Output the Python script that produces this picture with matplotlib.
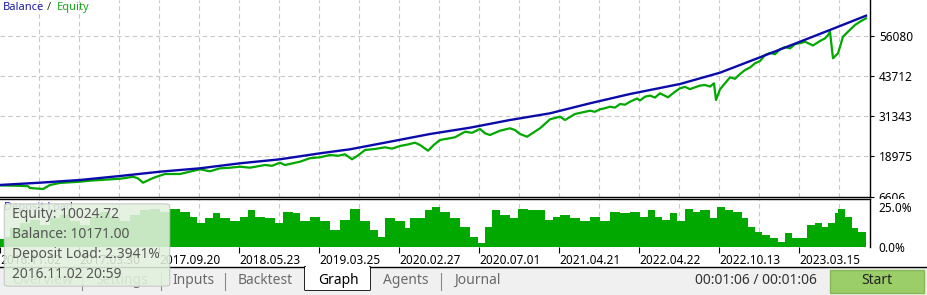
import matplotlib
matplotlib.use("Agg")
import matplotlib.pyplot as plt
from matplotlib.patches import Rectangle, FancyBboxPatch
from matplotlib.lines import Line2D

plt.rcParams['font.family'] = ['Noto Sans', 'DejaVu Sans']

# ---- data (x = deal step) ----
bal_x = [0, 40, 80, 120, 160, 200, 240, 280, 320, 350, 390, 430, 470, 510,
         550, 590, 630, 680, 720, 760, 800, 840, 866]
balance = [10171, 10873, 11708, 12945, 14274, 15326, 16872, 18108, 19963,
           21200, 23550, 25931, 27880, 30260, 32332, 35424, 38299, 41392,
           44888, 49646, 54470, 59326, 62510]

eq_x = [0, 15, 28, 30, 43, 50, 60, 70, 80, 90, 100, 110, 120, 125, 133, 138,
        143, 150, 155, 165, 180, 190, 200, 210, 220, 230, 240, 250, 265, 272,
        280, 285, 300, 310, 320, 330, 338, 345, 352, 358, 365, 375, 385, 392,
        400, 408, 415, 420, 428, 434, 440, 455, 465, 472, 480, 485, 490, 500,
        510, 515, 520, 527, 533, 540, 550, 560, 565, 575, 590, 595, 600, 605,
        610, 615, 620, 625, 630, 637, 640, 645, 650, 655, 660, 668, 675, 680,
        685, 690, 695, 700, 705, 710, 714, 716, 720, 730, 735, 740, 745, 750,
        755, 760, 765, 770, 775, 780, 785, 790, 795, 800, 805, 813, 820, 825,
        828, 830, 833, 838, 843, 848, 855, 860, 866]
equity = [10025, 9950, 9800, 9235, 8925, 10162, 10800, 10997, 11182, 11500,
          11708, 11900, 12110, 12300, 12725, 12200, 10873, 11900, 12543, 13563,
          13563, 14300, 15016, 14398, 15326, 15500, 15820, 15511, 16346, 16100,
          17057, 16346, 17366, 18450, 18727, 19438, 19200, 19654, 18108, 19300,
          20984, 21300, 21819, 21400, 22221, 22700, 23241, 22530, 20767, 22600,
          24076, 24911, 26642, 26300, 27477, 26148, 25622, 26952, 27694, 27168,
          25931, 25096, 26300, 27694, 30476, 31280, 30260, 32115, 33135, 32800,
          33568, 33900, 34372, 34100, 35207, 35000, 35918, 36900, 36300, 37464,
          37800, 37200, 38516, 37279, 39000, 40061, 40500, 39800, 40371, 40900,
          41082, 40600, 41607, 36444, 39752, 43462, 43000, 44483, 45720, 46500,
          47791, 48500, 50358, 51000, 50600, 52120, 52800, 52400, 53759, 54000,
          54470, 53300, 54700, 55500, 56500, 57562, 49337, 50883, 56017, 57562,
          59634, 60655, 61707]

load_x = [0, 5, 10, 20, 30, 40, 50, 60, 70, 80, 90, 100, 110, 120, 130, 140,
          150, 160, 170, 180, 190, 197, 205, 213, 220, 230, 240, 248, 255, 265,
          275, 283, 293, 300, 310, 320, 330, 340, 350, 360, 370, 378, 385, 395,
          405, 410, 420, 425, 432, 440, 450, 460, 470, 478, 485, 492, 500, 510,
          518, 528, 537, 545, 553, 560, 570, 580, 590, 600, 610, 620, 630, 640,
          648, 655, 662, 670, 677, 685, 693, 700, 710, 717, 725, 733, 742, 748,
          755, 762, 770, 778, 785, 792, 800, 807, 815, 822, 828, 835, 838, 845,
          852, 858, 863, 866]
deposit_load = [5, 6, 12, 15, 17, 14, 18, 20, 16, 14, 19, 22, 18, 16, 20, 23,
                24, 22, 24, 22, 19, 15, 18, 21, 18, 16, 19, 23, 19, 18, 15, 22,
                21, 16, 19, 16, 10.6, 17, 24, 16, 10.6, 6.4, 18, 16, 11.7, 18,
                18, 23, 25, 22, 18, 12.7, 6.4, 2.7, 12.7, 23, 20, 18, 23.5, 23,
                23, 17, 19, 20, 18, 16, 18.5, 16, 22, 21, 22, 19, 23, 19, 17,
                21, 16, 24, 22, 23, 18, 25, 23, 22, 18, 12.7, 9.6, 7.5, 5.4,
                3.3, 8.5, 5.4, 5.4, 13.7, 14.8, 12.7, 14.8, 21, 23.5, 19, 11.7,
                9.6, 9.6, 5.4]

y_ticks = [6606, 18975, 31343, 43712, 56080]
date_pos = [0, 79.5, 159.5, 239.5, 319.5, 399.5, 479.5, 559.5, 639.5, 719.5, 799.5]
date_labels = ['2016.11.02', '2017.03.30', '2017.09.20', '2018.05.23', '2019.03.25',
               '2020.02.27', '2020.07.01', '2021.04.21', '2022.04.22', '2022.10.13',
               '2023.03.15']
grid_x = [39.5 + 40 * k for k in range(21)]

BLUE = '#0b0baa'
GREEN = '#00a800'
GRID = '#c8c8c8'

W, H = 928, 295
fig = plt.figure(figsize=(W / 100, H / 100), dpi=100)
fig.patch.set_facecolor('white')


def fx(px):
    return px / W


def fy(py):
    return 1 - py / H


# ---- main balance / equity chart ----
ax = fig.add_axes([0, fy(196.5), fx(870.5), 196.5 / H])
ax.plot(eq_x, equity, color=GREEN, lw=1.6, zorder=3)
ax.plot(bal_x, balance, color=BLUE, lw=1.7, zorder=4)
ax.set_xlim(0, 870.5)
ax.set_ylim(6606, 67366)
ax.set_xticks(grid_x)
ax.tick_params(axis='x', length=0, labelbottom=False)
ax.yaxis.tick_right()
ax.set_yticks(y_ticks)
ax.set_yticklabels([str(v) for v in y_ticks])
ax.tick_params(axis='y', length=3, width=0.8, pad=3, labelsize=8.5, colors='black')
ax.grid(True, ls=(0, (4, 3)), color=GRID, lw=0.8)
for s in ['left', 'top']:
    ax.spines[s].set_visible(False)
for s in ['right', 'bottom']:
    ax.spines[s].set_color('black')
    ax.spines[s].set_linewidth(1)

fig.text(fx(3), fy(7.5), 'Balance', color='#1c1ca8', fontsize=8, va='center')
fig.text(fx(47), fy(7.5), '/', color='#333333', fontsize=8, va='center')
fig.text(fx(57), fy(7.5), 'Equity', color='#1ca81c', fontsize=8, va='center')

# ---- deposit load sub chart ----
ax2 = fig.add_axes([0, fy(247), fx(870.5), (247 - 199.3) / H], zorder=1)
ax2.add_patch(Rectangle((fx(871.5), fy(250)), fx(60), (250 - 199) / H,
                        transform=fig.transFigure, facecolor='white',
                        edgecolor='none', clip_on=False, zorder=1))
ax2.fill_between(load_x, deposit_load, step='post', color=GREEN, lw=0, zorder=3)
ax2.set_xlim(0, 870.5)
ax2.set_ylim(0, 29.8)
ax2.set_xticks(grid_x, minor=True)
ax2.set_xticks(date_pos)
ax2.set_xticklabels(date_labels)
for lbl in ax2.get_xticklabels():
    lbl.set_ha('left')
ax2.tick_params(axis='x', which='major', length=4, width=0.8, pad=1, labelsize=8.5)
ax2.tick_params(axis='x', which='minor', length=0)
ax2.grid(True, which='minor', axis='x', ls=(0, (4, 3)), color=GRID, lw=0.8)
ax2.yaxis.tick_right()
ax2.set_yticks([0, 25])
ax2.set_yticklabels(['0.0%', '25.0%'])
ax2.tick_params(axis='y', length=0, pad=6, labelsize=8.5)
for s in ['left', 'bottom']:
    ax2.spines[s].set_visible(False)
for s in ['right', 'top']:
    ax2.spines[s].set_color('black')
    ax2.spines[s].set_linewidth(1)
ax2.text(0.005, 0.82, 'Deposit Load', transform=ax2.transAxes, fontsize=8,
         color='#1c1ca8', va='center', zorder=4)

# ---- bottom tab bar ----
fig.patches.append(Rectangle((0, 0), 1, fy(267), transform=fig.transFigure,
                             facecolor='#f0f0f0', edgecolor='none', zorder=2))
for xa, xb in [(0, 305), (370, W)]:
    fig.lines.append(Line2D([fx(xa), fx(xb)], [fy(267), fy(267)],
                            transform=fig.transFigure, color='black', lw=1, zorder=3))
fig.patches.append(Rectangle((fx(305), fy(290)), fx(65), (290 - 267) / H,
                             transform=fig.transFigure, facecolor='white',
                             edgecolor='none', zorder=3))
fig.lines.append(Line2D([fx(305), fx(305), fx(370), fx(370)],
                        [fy(267), fy(290), fy(290), fy(267)],
                        transform=fig.transFigure, color='black', lw=1.2, zorder=3))
for sx in [82, 161, 225, 441]:
    fig.lines.append(Line2D([fx(sx), fx(sx)], [fy(273), fy(290)],
                            transform=fig.transFigure, color='#8a8a8a', lw=0.8, zorder=3))

tab_names = ['Overview', 'Settings', 'Inputs', 'Backtest', 'Graph', 'Agents', 'Journal']
tab_left = [12, 95, 172, 238, 318, 383, 454]
for name, tx in zip(tab_names, tab_left):
    fig.text(fx(tx), fy(280.5), name, fontsize=10, va='center',
             color='black' if name == 'Graph' else '#6a6a6a', zorder=4)

fig.text(fx(695), fy(280.5), '00:01:06 / 00:01:06', fontsize=10, va='center',
         color='#333333', zorder=4)
fig.patches.append(Rectangle((fx(830), fy(292.5)), fx(94), (292.5 - 270) / H,
                             transform=fig.transFigure, facecolor='#9bcd68',
                             edgecolor='#86b85a', lw=1, zorder=3))
fig.text(fx(877), fy(281), 'Start', fontsize=10, ha='center', va='center',
         color='#222222', zorder=4)

# ---- tooltip ----
fig.patches.append(FancyBboxPatch((fx(8), fy(285)), fx(158), (285 - 205) / H,
                                  boxstyle='round,pad=0.004,rounding_size=0.006',
                                  transform=fig.transFigure, facecolor='#e3f1dd',
                                  edgecolor='#c4c4c4', lw=0.8, alpha=0.88, zorder=5))
tip_lines = ['Equity: 10024.72', 'Balance: 10171.00', 'Deposit Load: 2.3941%',
             '2016.11.02 20:59']
for i, t in enumerate(tip_lines):
    fig.text(fx(12), fy(215 + 20 * i), t, fontsize=10, va='center',
             color='#555555', zorder=6)

fig.savefig('out.png', dpi=100)
